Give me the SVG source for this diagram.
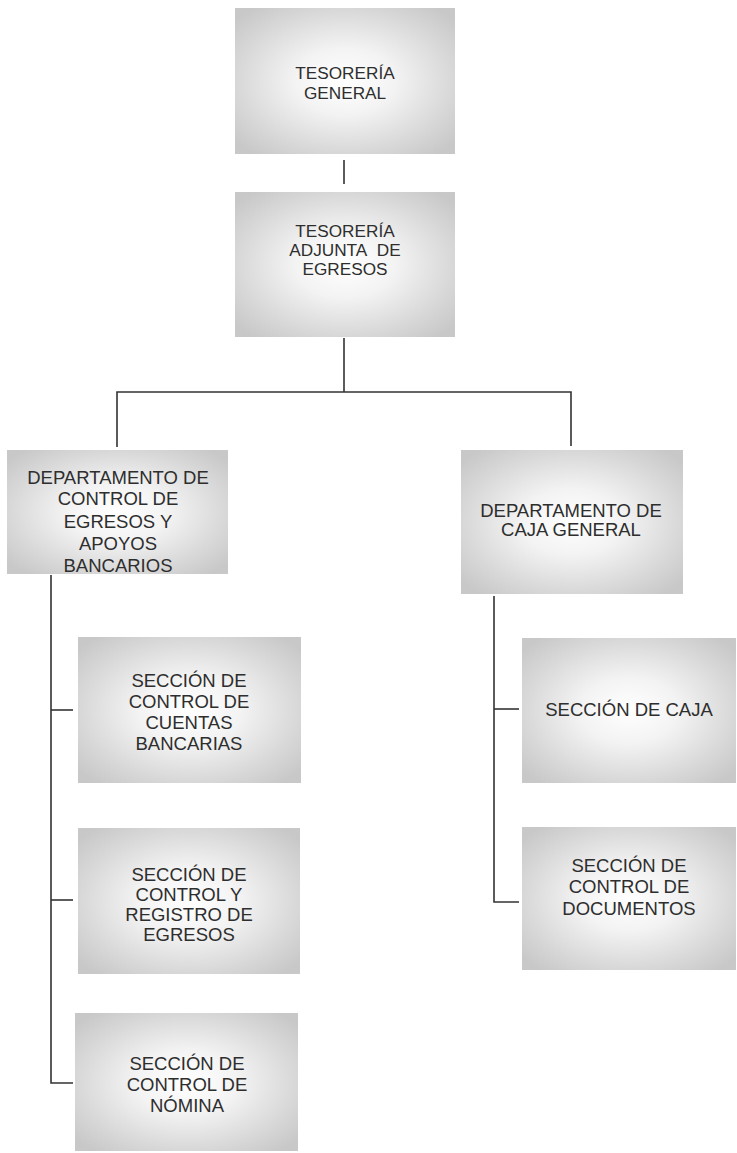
<svg xmlns="http://www.w3.org/2000/svg" width="737" height="1153" viewBox="0 0 737 1153">
<defs>
<radialGradient id="boxfill" cx="50%" cy="50%" r="65%">
<stop offset="0" stop-color="#ffffff"/>
<stop offset="0.35" stop-color="#f3f3f3"/>
<stop offset="0.75" stop-color="#d8d8d8"/>
<stop offset="1" stop-color="#c8c8c8"/>
</radialGradient>
</defs>
<style>
.box{fill:url(#boxfill);stroke:none}
.lbl{font-family:"Liberation Sans",Arial,sans-serif;font-size:18.5px;fill:#2e2e2e;text-anchor:middle}
.top{font-size:17.2px}
.conn{fill:none;stroke:#333;stroke-width:1.6}
</style>
<rect width="737" height="1153" fill="#ffffff"/>
<g id="connectors">
<line class="conn" x1="344" y1="160" x2="344" y2="184"/>
<polyline class="conn" points="344,338 344,392"/>
<polyline class="conn" points="117,447 117,392 571,392 571,446"/>
<polyline class="conn" points="51,575 51,1083 73,1083"/>
<line class="conn" x1="51" y1="710" x2="73" y2="710"/>
<line class="conn" x1="51" y1="900" x2="73" y2="900"/>
<polyline class="conn" points="494,596 494,902 519,902"/>
<line class="conn" x1="494" y1="709" x2="519" y2="709"/>
</g>
<g id="tesoreria-general">
<rect class="box" x="235" y="8" width="220" height="146"/>
<text class="lbl top" x="345" y="79">TESORERÍA</text>
<text class="lbl top" x="345" y="99">GENERAL</text>
</g>
<g id="tesoreria-adjunta">
<rect class="box" x="235" y="192" width="220" height="145"/>
<text class="lbl top" x="345" y="237">TESORERÍA</text>
<text class="lbl top" x="345" y="256">ADJUNTA&#160; DE</text>
<text class="lbl top" x="345" y="275">EGRESOS</text>
</g>
<g id="depto-control-egresos">
<rect class="box" x="7" y="450" width="221" height="124"/>
<text class="lbl" x="118" y="484">DEPARTAMENTO DE</text>
<text class="lbl" x="118" y="505">CONTROL DE</text>
<text class="lbl" x="118" y="528">EGRESOS Y</text>
<text class="lbl" x="118" y="550">APOYOS</text>
<text class="lbl" x="118" y="572">BANCARIOS</text>
</g>
<g id="depto-caja-general">
<rect class="box" x="461" y="450" width="222" height="144"/>
<text class="lbl" x="571" y="517">DEPARTAMENTO DE</text>
<text class="lbl" x="571" y="536">CAJA GENERAL</text>
</g>
<g id="seccion-cuentas-bancarias">
<rect class="box" x="78" y="637" width="223" height="146"/>
<text class="lbl" x="189" y="687">SECCIÓN DE</text>
<text class="lbl" x="189" y="708">CONTROL DE</text>
<text class="lbl" x="189" y="729">CUENTAS</text>
<text class="lbl" x="189" y="750">BANCARIAS</text>
</g>
<g id="seccion-registro-egresos">
<rect class="box" x="78" y="828" width="222" height="146"/>
<text class="lbl" x="189" y="881">SECCIÓN DE</text>
<text class="lbl" x="189" y="901">CONTROL Y</text>
<text class="lbl" x="189" y="921">REGISTRO DE</text>
<text class="lbl" x="189" y="941">EGRESOS</text>
</g>
<g id="seccion-nomina">
<rect class="box" x="75" y="1013" width="223" height="138"/>
<text class="lbl" x="187" y="1070">SECCIÓN DE</text>
<text class="lbl" x="187" y="1091">CONTROL DE</text>
<text class="lbl" x="187" y="1112">NÓMINA</text>
</g>
<g id="seccion-caja">
<rect class="box" x="522" y="638" width="214" height="145"/>
<text class="lbl" x="629" y="716">SECCIÓN DE CAJA</text>
</g>
<g id="seccion-documentos">
<rect class="box" x="522" y="827" width="214" height="143"/>
<text class="lbl" x="629" y="872">SECCIÓN DE</text>
<text class="lbl" x="629" y="893">CONTROL DE</text>
<text class="lbl" x="629" y="915">DOCUMENTOS</text>
</g>
</svg>
